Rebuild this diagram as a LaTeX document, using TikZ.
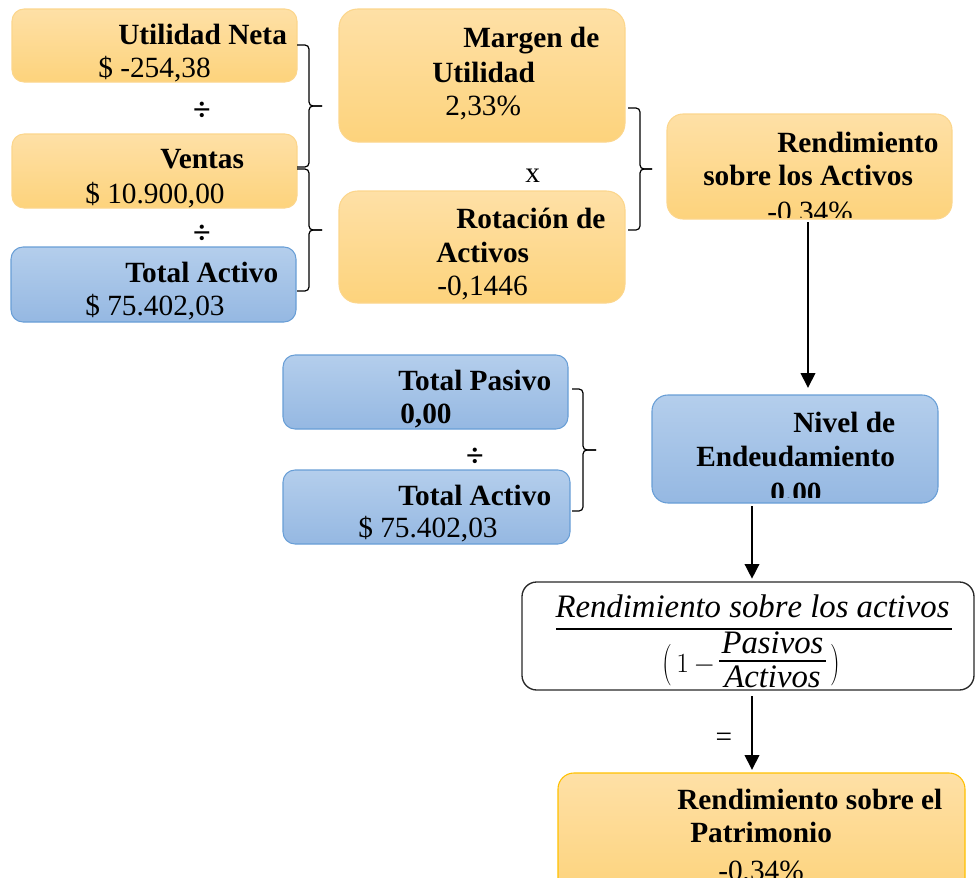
\documentclass[tikz,border=0pt]{standalone}
\usepackage{amsmath}
\usepackage{fontspec}
\setmainfont{Liberation Serif}
\usetikzlibrary{fit,arrows.meta}
\definecolor{otop}{RGB}{254,224,166}
\definecolor{obot}{RGB}{253,211,124}
\definecolor{oedge}{RGB}{252,214,140}
\definecolor{btop}{RGB}{180,206,236}
\definecolor{bbot}{RGB}{149,184,226}
\definecolor{bedge}{RGB}{104,158,214}
\definecolor{gold}{RGB}{255,192,0}
\definecolor{fedge}{RGB}{40,40,40}
\tikzset{
  box/.style={rectangle, rounded corners=9pt, inner sep=0pt, line width=0.8pt},
  obox/.style={box, top color=otop, bottom color=obot, draw=oedge},
  bbox/.style={box, top color=btop, bottom color=bbot, draw=bedge},
  fbox/.style={box, rounded corners=11pt, draw=fedge, line width=1pt, fill=white},
  pbox/.style={box, rounded corners=12pt, top color=otop, bottom color=obot, draw=gold},
  txt/.style={inner sep=0pt, anchor=base west, font=\fontsize{22}{26}\selectfont},
  btxt/.style={txt, font=\fontsize{22}{26}\selectfont\bfseries},
  optxt/.style={inner sep=0pt, anchor=center, font=\fontsize{24}{28}\selectfont\bfseries},
  mtxt/.style={inner sep=0pt, anchor=base, font=\fontsize{21}{25}\selectfont},
  brace/.style={line width=0.9pt, rounded corners=3pt},
  fracbar/.style={line width=1pt},
  arr/.style={line width=1.1pt, -{Triangle[width=11pt,length=11pt]}},
}
\newcommand\mybrace[5]{%
  \draw[brace] (#1,#2) -- (#4,#2) -- (#4,{(#2+#3)/2}) -- (#5,{(#2+#3)/2});
  \draw[brace] (#1,#3) -- (#4,#3) -- (#4,{(#2+#3)/2}) -- (#5,{(#2+#3)/2});
}
\newcommand\fmath[1]{\scalebox{1.17}{$#1$}}
\begin{document}
\begin{tikzpicture}[x=0.75pt,y=-0.75pt]
\useasboundingbox (0,0) rectangle (976,878);

% left column
\node[obox, fit={(12,9) (297,82)}] (un) {};
\node[btxt] (unA) at (118,45) {Utilidad Neta};
\node[txt] (unB) at (98,77) {\$ -254,38};
\node[optxt] (div1) at (202,111) {÷};
\node[obox, fit={(12,134) (297,208)}] (ve) {};
\node[btxt] (veA) at (160,168) {Ventas};
\node[txt] (veB) at (85,203) {\$ 10.900,00};
\node[optxt] (div2) at (202,234) {÷};
\node[bbox, fit={(11,247) (296,322)}] (ta) {};
\node[btxt] (taA) at (125,282) {Total Activo};
\node[txt] (taB) at (85,315) {\$ 75.402,03};

\mybrace{297}{45}{167}{309}{322}
\mybrace{297}{169}{291}{309}{322}

% middle column
\node[obox, rounded corners=14pt, fit={(339,9) (625,142)}] (mu) {};
\node[btxt] (muA) at (463,47) {Margen de};
\node[btxt] (muB) at (432,82) {Utilidad};
\node[txt] (muC) at (445,115) {2,33\%};
\node[txt] (times) at (525,182) {x};
\node[obox, rounded corners=14pt, fit={(339,191) (625,303)}] (ra) {};
\node[btxt] (raA) at (456,228) {Rotación de};
\node[btxt] (raB) at (436,262) {Activos};
\node[txt] (raC) at (437,295) {-0,1446};

\mybrace{628}{108}{230}{640}{652}

% ROA
\node[obox, rounded corners=12pt, fit={(667,114) (952,219)}] (roa) {};
\node[btxt] (roaA) at (777,152) {Rendimiento};
\node[btxt] (roaB) at (703,185) {sobre los Activos};
\begin{scope}
  \clip (667,114) rectangle (952,217);
  \node[txt] (roaC) at (767,221) {-0,34\%};
\end{scope}

% debt block
\node[bbox, fit={(283,355) (568,429)}] (tp) {};
\node[btxt] (tpA) at (398,390) {Total Pasivo};
\node[btxt] (tpB) at (400,423) {0,00};
\node[optxt] (div3) at (475,457) {÷};
\node[bbox, fit={(283,470) (570,544)}] (tb) {};
\node[btxt] (tbA) at (398,505) {Total Activo};
\node[txt] (tbB) at (358,537) {\$ 75.402,03};

\mybrace{572}{389}{511}{583}{596}

\node[bbox, rounded corners=12pt, fit={(652,395) (938,503)}] (nv) {};
\node[btxt] (nvA) at (793,432) {Nivel de};
\node[btxt] (nvB) at (696,466) {Endeudamiento};
\begin{scope}
  \clip (652,395) rectangle (938,497);
  \node[btxt] (nvC) at (770,502) {0.00};
\end{scope}

% formula
\node[fbox, fit={(522,582) (974,690)}] (fm) {};
\node[mtxt] (fnum) at (752.5,617) {\fmath{\mathit{Rendimiento\ sobre\ los\ activos}}};
\coordinate (fbarL) at (556,629);
\coordinate (fbarR) at (952,629);
\draw[fracbar] (fbarL) -- (fbarR);
\node[inner sep=0pt, font=\fontsize{21}{25}\selectfont] (lpar) at (667,665) {\scalebox{1}[1.5]{$($}};
\node[inner sep=0pt, anchor=base west, font=\fontsize{22}{26}\selectfont] (one) at (676,672) {$1\,-$};
\node[mtxt] (pas) at (772.5,653) {\fmath{\mathit{Pasivos}}};
\node[mtxt] (act) at (772.5,687) {\fmath{\mathit{Activos}}};
\coordinate (ibarL) at (719,661);
\coordinate (ibarR) at (826,661);
\draw[fracbar] (ibarL) -- (ibarR);
\node[inner sep=0pt, font=\fontsize{21}{25}\selectfont] (rpar) at (835,665) {\scalebox{1}[1.5]{$)$}};

% result
\node[pbox, fit={(558,773) (965,895)}] (pt) {};
\node[btxt] (ptA) at (677,809) {Rendimiento sobre el};
\node[btxt] (ptB) at (690,842) {Patrimonio};
\node[txt] (ptC) at (718,880) {-0,34\%};

\node[inner sep=0pt, font=\fontsize{22}{26}\selectfont] (eq) at (724,740) {=};

% arrows
\coordinate (c808) at (808,0);
\coordinate (c752) at (752,0);
\draw[arr, shorten <=2pt, shorten >=5pt] (roa.south -| c808) -- (nv.north -| c808);
\draw[arr, shorten <=2pt, shorten >=2pt] (nv.south -| c752) -- (fm.north -| c752);
\draw[arr, shorten <=4pt, shorten >=2pt] (fm.south -| c752) -- (pt.north -| c752);
\end{tikzpicture}
\end{document}
